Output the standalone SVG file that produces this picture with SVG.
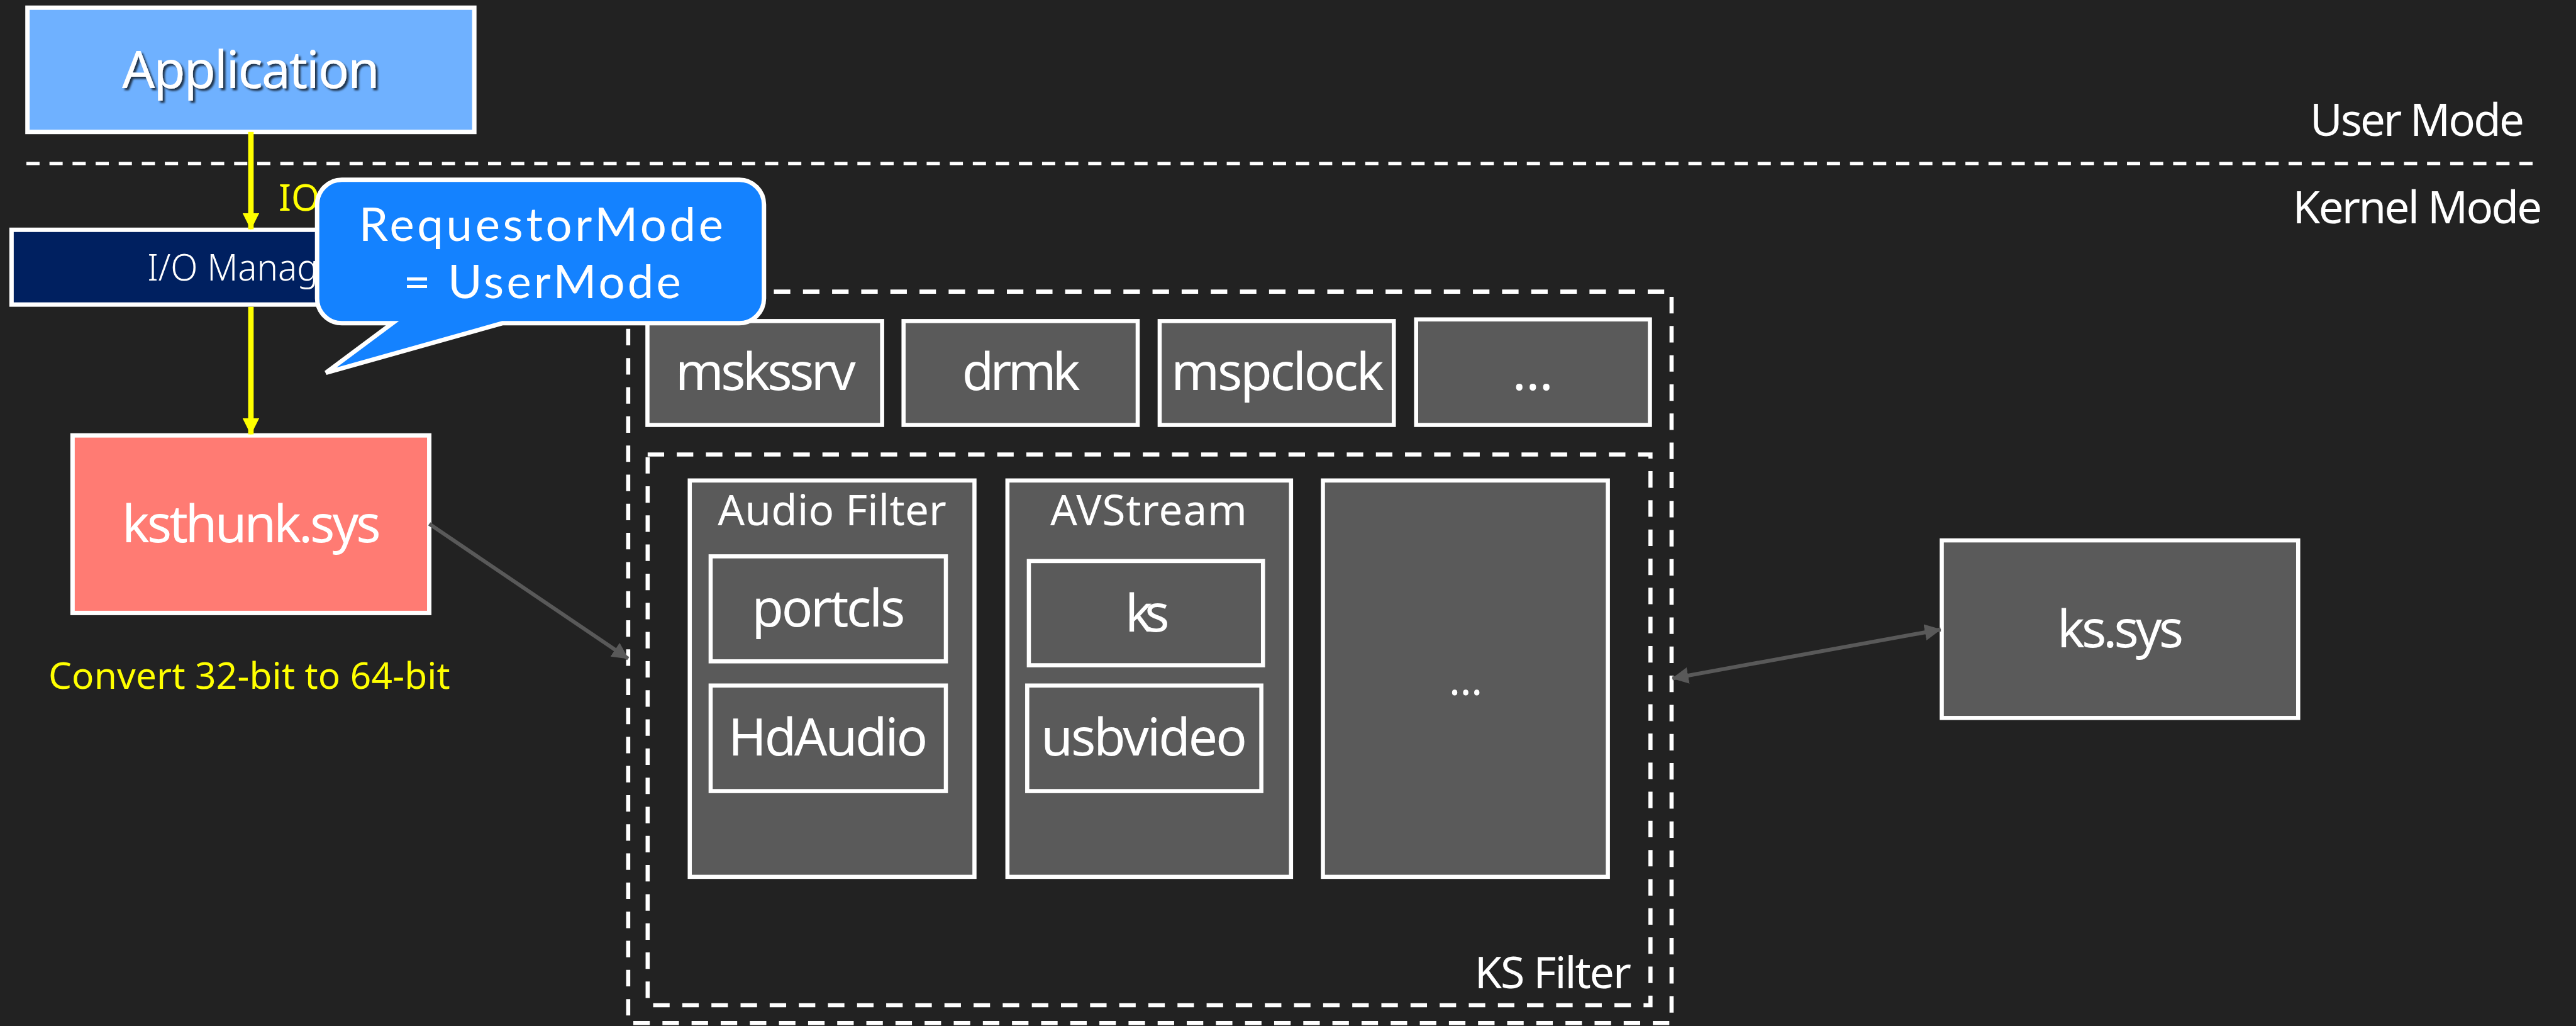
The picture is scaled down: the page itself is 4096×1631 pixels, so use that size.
<svg xmlns="http://www.w3.org/2000/svg" width="4096" height="1631" viewBox="0 0 4096 1631">
<defs>
<style>
text{font-family:"Noto Sans","Open Sans","Liberation Sans",sans-serif;fill:#fff}
.t94{font-size:94px;text-anchor:middle}
.t77{font-size:77px;text-anchor:middle}
.yel{fill:#FFFF00}
.box{stroke:#fff;stroke-width:8}
.gbox{fill:#5A5A5A;stroke:#fff;stroke-width:7.5}
.dash{fill:none;stroke:#fff;stroke-width:7.5;stroke-dasharray:30 23}
.ya{stroke:#FFFF00;stroke-width:10;fill:none}
.ga{stroke:#595959;stroke-width:7;fill:none}
.callt{font-family:Lato,"Noto Sans",sans-serif;font-size:85px;text-anchor:middle}
</style>
<marker id="yhead" markerUnits="userSpaceOnUse" markerWidth="30" markerHeight="30" viewBox="0 0 30 30" refX="29" refY="15" orient="auto">
<path d="M0,0 L30,15 L0,30 Z" fill="#FFFF00"/>
</marker>
<marker id="ghead" markerUnits="userSpaceOnUse" markerWidth="30" markerHeight="30" viewBox="0 0 30 30" refX="29" refY="15" orient="auto-start-reverse">
<path d="M0,0 L30,15 L0,30 Z" fill="#595959"/>
</marker>
<filter id="shadow" x="-10%" y="-20%" width="130%" height="150%">
<feDropShadow dx="4" dy="4" stdDeviation="2" flood-color="#000" flood-opacity="0.7"/>
</filter>
</defs>
<rect x="0" y="0" width="4096" height="1631" fill="#222222"/>
<g transform="scale(0.87391)">
<g id="mode-divider">
<line x1="48" y1="297.5" x2="4608" y2="297.5" stroke="#fff" stroke-width="6" stroke-dasharray="24 18"/>
<text x="4593" y="247.6" font-size="81" text-anchor="end" textLength="390">User Mode</text>
<text x="4625.5" y="406.7" font-size="81" text-anchor="end" textLength="454">Kernel Mode</text>
</g>
<g id="ks-outer">
<rect class="dash" x="1143" y="530.5" width="1898.4" height="1330.5"/>
</g>
<g id="ks-filter">
<rect class="dash" x="1178.4" y="826.7" width="1824.6" height="1001.8"/>
<text x="2968" y="1798" font-size="80" text-anchor="end" textLength="285">KS Filter</text>
</g>
<g id="application">
<rect class="box" x="50" y="14" width="813" height="226" fill="#6FB1FF"/>
<text class="t94" x="456.5" y="160" textLength="469" filter="url(#shadow)">Application</text>
</g>
<g id="io-manager">
<rect class="box" x="21" y="418" width="871" height="136" fill="#002060"/>
<text x="268" y="510" font-size="67" font-weight="300" textLength="372" lengthAdjust="spacingAndGlyphs">I/O Manager</text>
</g>
<g id="ksthunk">
<rect class="box" x="132" y="792" width="649" height="323" fill="#FF7B73"/>
<text class="t94" x="457.5" y="986" textLength="471">ksthunk.sys</text>
<text class="yel" x="88" y="1253" font-size="67" textLength="731">Convert 32-bit to 64-bit</text>
</g>
<g id="mskssrv">
<rect class="gbox" x="1178" y="584" width="427" height="189"/>
<text class="t94" x="1393" y="709" textLength="328">mskssrv</text>
</g>
<g id="drmk">
<rect class="gbox" x="1644" y="584" width="426" height="189"/>
<text class="t94" x="1858" y="709" textLength="215">drmk</text>
</g>
<g id="mspclock">
<rect class="gbox" x="2110" y="584" width="426" height="189"/>
<text class="t94" x="2324.5" y="709" textLength="387">mspclock</text>
</g>
<g id="more-top">
<rect class="gbox" x="2576.6" y="581" width="425.4" height="192"/>
<text class="t94" x="2789" y="709">…</text>
</g>
<g id="audio-filter">
<rect class="gbox" x="1255" y="874" width="518" height="721"/>
<text class="t77" x="1514" y="955.6" textLength="416">Audio Filter</text>
</g>
<g id="portcls">
<rect class="gbox" x="1293" y="1012" width="428" height="191"/>
<text class="t94" x="1507.5" y="1140" textLength="279">portcls</text>
</g>
<g id="hdaudio">
<rect class="gbox" x="1293" y="1247" width="428" height="192"/>
<text class="t94" x="1506.5" y="1374" textLength="363">HdAudio</text>
</g>
<g id="avstream">
<rect class="gbox" x="1833" y="874" width="516" height="721"/>
<text class="t77" x="2090" y="955.6" textLength="358">AVStream</text>
</g>
<g id="ks">
<rect class="gbox" x="1872" y="1020.6" width="426" height="189.5"/>
<text class="t94" x="2087.5" y="1149" textLength="81">ks</text>
</g>
<g id="usbvideo">
<rect class="gbox" x="1869" y="1247" width="426" height="192"/>
<text class="t94" x="2081.5" y="1374" textLength="375">usbvideo</text>
</g>
<g id="more-filter">
<rect class="gbox" x="2407" y="874" width="518.5" height="721"/>
<text class="t77" x="2667" y="1265">…</text>
</g>
<g id="ks-sys">
<rect class="gbox" x="3533" y="983" width="648.5" height="323"/>
<text class="t94" x="3858" y="1177.8" textLength="230">ks.sys</text>
</g>
<g id="connectors">
<line class="ya" x1="456.5" y1="240" x2="456.5" y2="417" marker-end="url(#yhead)"/>
<text class="yel" x="507" y="383" font-size="67">IO</text>
<line class="ya" x1="456.5" y1="558" x2="456.5" y2="790" marker-end="url(#yhead)"/>
<line class="ga" x1="781" y1="953" x2="1143" y2="1198" marker-end="url(#ghead)"/>
<line class="ga" x1="3043" y1="1234" x2="3531" y2="1145" marker-start="url(#ghead)" marker-end="url(#ghead)"/>
</g>
<g id="callout">
<path d="M622,327 H1345 A45,45 0 0 1 1390,372 V543 A45,45 0 0 1 1345,588 H914 L593,678 L714,588 H622 A45,45 0 0 1 577,543 V372 A45,45 0 0 1 622,327 Z" fill="#1482FF" stroke="#fff" stroke-width="8"/>
<text class="callt"><tspan x="984.5" y="438" textLength="663">RequestorMode</tspan><tspan x="986.5" y="542" textLength="505">= UserMode</tspan></text>
</g>
</g>
</svg>
